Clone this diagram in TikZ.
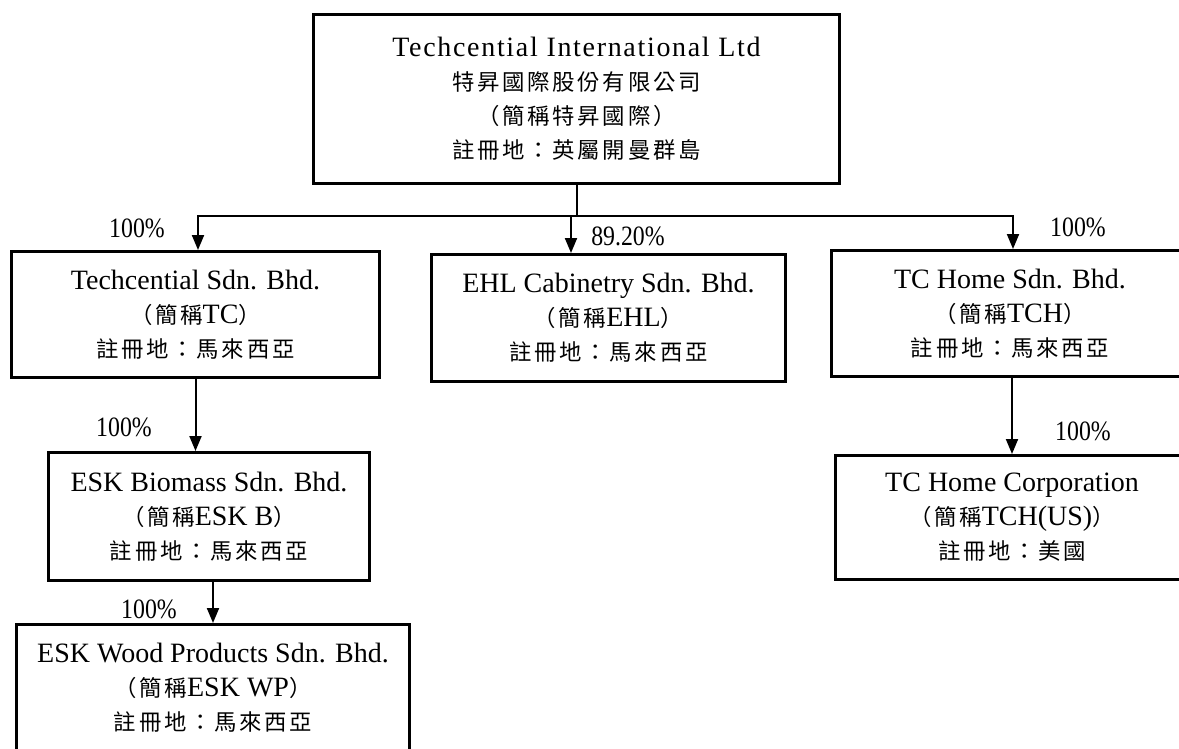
\documentclass[tikz,border=0pt]{standalone}
\usepackage{fontspec}
\setmainfont{Liberation Serif}
\newfontfamily\cjk{Noto Sans CJK TC}[Scale=0.8,LetterSpace=12]
\newfontfamily\widefont{Liberation Serif}[LetterSpace=6]
\newfontfamily\numfont{Liberation Serif}[FakeStretch=0.85]
\usetikzlibrary{arrows.meta}
\tikzset{
  box/.style={draw=black, line width=3pt, rectangle, align=center, inner sep=0pt,
    font=\fontsize{28}{34}\selectfont},
  lbl/.style={font=\fontsize{28}{34}\selectfont\numfont, inner sep=0pt},
  conn/.style={line width=2pt, line cap=rect},
  arr/.style={line width=2pt, line cap=rect, -{Triangle[width=12pt,length=15pt]}}
}
\begin{document}
\begin{tikzpicture}[x=1pt,y=-1pt]
\useasboundingbox (0,0) rectangle (1179,749);
\fill[white] (0,0) rectangle (1179,749);
\clip (0,0) rectangle (1179,749);

\node[box, minimum width=526, minimum height=169] (top) at (576.5,99)
  {{\widefont Techcential International Ltd}\\{\cjk 特昇國際股份有限公司}\\{\cjk （簡稱特昇國際）}\\{\cjk 註冊地：英屬開曼群島}};

\node[box, minimum width=368, minimum height=126] (tc) at (195.5,314.5)
  {Techcential Sdn. Bhd.\\{\cjk （簡稱}TC{\cjk ）}\\{\cjk 註冊地：馬來西亞}};
\node[box, minimum width=354, minimum height=127] (ehl) at (608.5,318)
  {EHL Cabinetry Sdn. Bhd.\\{\cjk （簡稱}EHL{\cjk ）}\\{\cjk 註冊地：馬來西亞}};
\node[box, minimum width=357, minimum height=126] (tch) at (1010,313.5)
  {TC Home Sdn. Bhd.\\{\cjk （簡稱}TCH{\cjk ）}\\{\cjk 註冊地：馬來西亞}};
\node[box, minimum width=353, minimum height=124] (tchus) at (1012,517.5)
  {TC Home Corporation\\{\cjk （簡稱}TCH(US){\cjk ）}\\{\cjk 註冊地：美國}};
\node[box, minimum width=321, minimum height=128] (eskb) at (209,516.5)
  {ESK Biomass Sdn. Bhd.\\{\cjk （簡稱}ESK B{\cjk ）}\\{\cjk 註冊地：馬來西亞}};
\node[box, minimum width=393, minimum height=126] (eskwp) at (213,687.5)
  {ESK Wood Products Sdn. Bhd.\\{\cjk （簡稱}ESK WP{\cjk ）}\\{\cjk 註冊地：馬來西亞}};

\coordinate (jl) at (198,216);
\coordinate (jm) at (571,216);
\coordinate (jr) at (1013,216);

\draw[conn] (top.south) -- (top.south |- jl);
\draw[conn] (jl) -- (jr);
\draw[arr] (jl) -- (jl |- tc.north);
\draw[arr] (jm) -- (jm |- ehl.north);
\draw[arr] (jr) -- (jr |- tch.north);
\draw[arr] (tc.south) -- (tc.south |- eskb.north);
\draw[arr] (eskwp.north |- eskb.south) -- (eskwp.north);
\draw[arr] (tchus.north |- tch.south) -- (tchus.north);

\node[lbl] (p1) at (137,228) {100\%};
\node[lbl] (p2) at (628,236) {89.20\%};
\node[lbl] (p3) at (1078,227) {100\%};
\node[lbl] (p4) at (124,427) {100\%};
\node[lbl] (p5) at (149,609) {100\%};
\node[lbl] (p6) at (1083,431) {100\%};
\end{tikzpicture}
\end{document}
